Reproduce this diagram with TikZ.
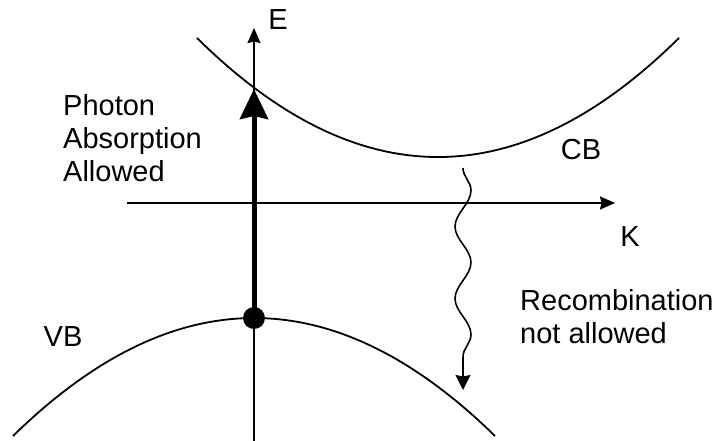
\documentclass[tikz,border=0pt]{standalone}
\usepackage{fontspec}
\setmainfont{Liberation Sans}
\usetikzlibrary{arrows.meta,decorations.pathmorphing}
\begin{document}
\begin{tikzpicture}[x=1pt,y=-1pt,>={Stealth[length=15pt,width=13pt,inset=1.5pt]},
  band/.style={line width=1.8pt},
  lbl/.style={inner sep=0pt,font=\fontsize{29}{33}\selectfont}]
\useasboundingbox (0,0) rectangle (721,441);
\coordinate (ebot) at (254,441);
\coordinate (etop) at (254,28);
\coordinate (kleft) at (127,203);
\coordinate (kright) at (615,203);
\draw[band,->] (ebot) -- (etop);
\draw[band,->] (kleft) -- (kright);
\draw[band] (197,38) .. controls (357.7,196.7) and (518.3,196.7) .. (679,38);
\draw[band] (13,436) .. controls (173.7,278.7) and (334.3,278.7) .. (495,436);
\node[circle,fill=black,inner sep=0pt,minimum size=22pt] (hole) at (254,318) {};
\coordinate (cbhit) at (254,89);
\draw[line width=5pt,->,>={Stealth[length=30pt,width=28pt,inset=3pt]}] (hole.center) -- (cbhit);
\coordinate (wtop) at (463,168);
\coordinate (wbot) at (463,390);
\draw[line width=1.6pt,->,>={Stealth[length=15pt,width=15pt,inset=1.5pt]},decorate,
  decoration={snake,amplitude=8pt,segment length=72pt,post length=30pt}] (wtop) -- (wbot);
\node[lbl] (elabel) at (278,20) {E};
\node[lbl] (klabel) at (630,237) {K};
\node[lbl] (cblabel) at (581,150) {CB};
\node[lbl] (vblabel) at (63,337) {VB};
\node[lbl,align=left,anchor=north west] (photon) at (63,94) {Photon\\Absorption\\Allowed};
\node[lbl,align=left,anchor=north west] (recomb) at (520,289) {Recombination\\not allowed};
\end{tikzpicture}
\end{document}
